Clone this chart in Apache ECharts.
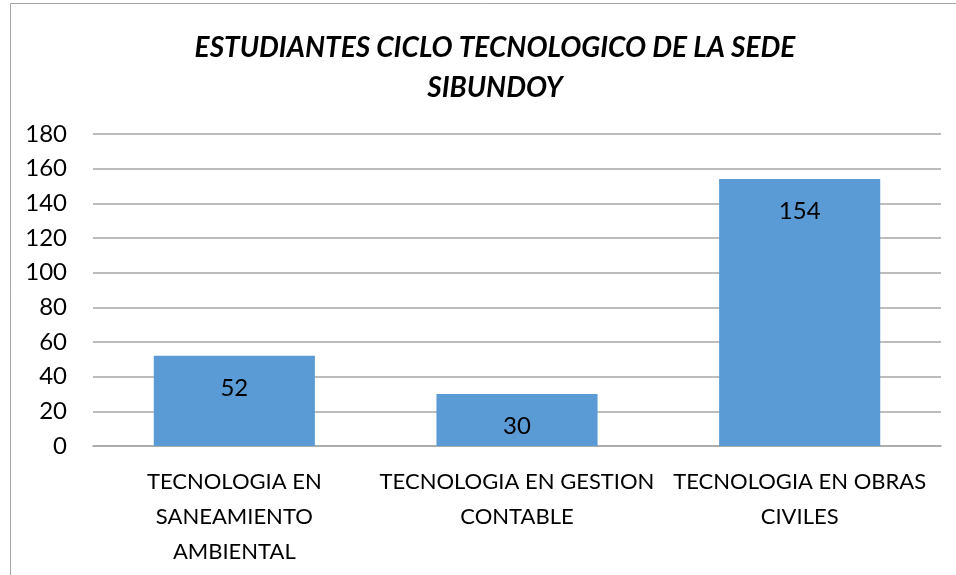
<!DOCTYPE html>
<html>
<head>
<meta charset="utf-8">
<script src="https://cdn.jsdelivr.net/npm/echarts@6/dist/echarts.min.js"></script>
<style>
  html, body { margin: 0; padding: 0; background: #fff; }
  #chart { width: 956px; height: 575px; }
</style>
</head>
<body>
<div id="chart"></div>
<script>
// datos del grafico
const categories = [
  'TECNOLOGIA EN\nSANEAMIENTO\nAMBIENTAL',
  'TECNOLOGIA EN GESTION\nCONTABLE',
  'TECNOLOGIA EN OBRAS\nCIVILES'
]
const students = [52, 30, 154]
const yTicks = { min: 0, max: 180, interval: 20 }

const font = 'Lato, "Open Sans", sans-serif'
const chart = echarts.init(document.getElementById('chart'))

chart.setOption({
  animation: false,
  graphic: [
    // marco del grafico
    {
      type: 'polyline',
      shape: { points: [[10.5, 600], [10.5, 3.5], [960, 3.5]] },
      style: { stroke: '#a6a6a6', lineWidth: 1, fill: null }
    }
  ],
  title: {
    text: 'ESTUDIANTES CICLO TECNOLOGICO DE LA SEDE\nSIBUNDOY',
    left: 490,
    textAlign: 'center',
    top: 23,
    textStyle: {
      fontFamily: font,
      fontSize: 28,
      fontWeight: 'bold',
      fontStyle: 'italic',
      color: '#000',
      lineHeight: 40
    }
  },
  grid: { left: 93, right: 15, top: 134, bottom: 129 },
  xAxis: {
    type: 'category',
    data: categories,
    axisTick: { show: false },
    axisLine: { lineStyle: { color: '#a6a6a6', width: 1.5 } },
    axisLabel: {
      interval: 0,
      margin: 18,
      color: '#000',
      fontFamily: font,
      fontSize: 22,
      lineHeight: 35
    }
  },
  yAxis: {
    type: 'value',
    min: yTicks.min,
    max: yTicks.max,
    interval: yTicks.interval,
    axisLine: { show: false },
    axisTick: { show: false },
    splitLine: { lineStyle: { color: '#a6a6a6', width: 1.5 } },
    axisLabel: {
      margin: 26,
      color: '#000',
      fontFamily: font,
      fontSize: 24
    }
  },
  series: [
    {
      type: 'bar',
      data: students,
      barWidth: '57%',
      itemStyle: { color: '#5b9bd5' },
      label: {
        show: true,
        position: 'insideTop',
        distance: 20,
        color: '#000',
        fontFamily: font,
        fontSize: 24
      }
    }
  ]
})
</script>
</body>
</html>
